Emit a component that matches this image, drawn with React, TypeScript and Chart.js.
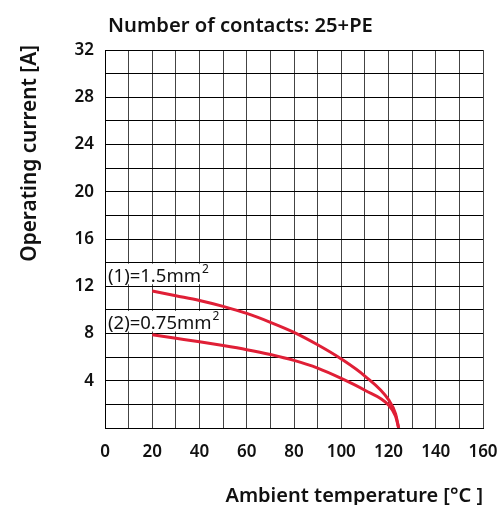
import React, { useEffect, useRef } from "react";
import { Chart, registerables } from "chart.js";

Chart.register(...registerables);

const chartTitle = "Number of contacts: 25+PE";
const xAxisTitle = "Ambient temperature [°C ]";
const yAxisTitle = "Operating current [A]";

const xMin = 0;
const xMax = 160;
const xStep = 10;
const xLabelStep = 20;
const yMin = 0;
const yMax = 32;
const yStep = 2;
const yLabelStep = 4;

const series1Label = "(1)=1.5mm";
const series1Temp = [20, 30, 40, 50, 60, 70, 80, 90, 100, 110, 120, 123, 124.3];
const series1Current = [11.6, 11.2, 10.8, 10.3, 9.7, 8.95, 8.1, 7.05, 5.85, 4.4, 2.4, 1.2, 0];

const series2Label = "(2)=0.75mm";
const series2Temp = [20, 30, 40, 50, 60, 70, 80, 90, 100, 110, 120, 123, 124.3];
const series2Current = [7.9, 7.6, 7.3, 6.98, 6.63, 6.22, 5.72, 5.07, 4.2, 3.2, 1.95, 1.0, 0];

const FONT = "'Noto Sans', 'Open Sans', sans-serif";
const RED = "#e01f36";
const TEXT = "#111111";

export default function App() {
  const ref = useRef<HTMLCanvasElement>(null);

  useEffect(() => {
    if (!ref.current) return;

    const textPlugin = {
      id: "textPlugin",
      afterDatasetsDraw(chart: any) {
        const ctx = chart.ctx;
        const area = chart.chartArea;
        const ys = chart.scales.y;
        ctx.save();
        const labels = [
          { text: series1Label, top: ys.getPixelForValue(14), w: 110 },
          { text: series2Label, top: ys.getPixelForValue(10), w: 117 },
        ];
        labels.forEach((l) => {
          const h = ys.getPixelForValue(12) - ys.getPixelForValue(14);
          ctx.fillStyle = "#ffffff";
          ctx.fillRect(area.left + 1, l.top + 1, l.w, h - 3);
          ctx.fillStyle = TEXT;
          ctx.font = `18.5px ${FONT}`;
          ctx.textBaseline = "alphabetic";
          ctx.textAlign = "left";
          ctx.fillText(l.text, area.left + 3, l.top + 19.5);
          const tw = ctx.measureText(l.text).width;
          ctx.font = `12px ${FONT}`;
          ctx.fillText("2", area.left + 4 + tw, l.top + 10);
        });
        ctx.restore();
      },
      afterDraw(chart: any) {
        const ctx = chart.ctx;
        const area = chart.chartArea;
        ctx.save();
        ctx.fillStyle = TEXT;
        ctx.textBaseline = "alphabetic";
        ctx.font = `600 20.2px ${FONT}`;
        ctx.textAlign = "left";
        ctx.fillText(chartTitle, area.left + 3, 31.5);
        ctx.font = `600 20px ${FONT}`;
        ctx.textAlign = "right";
        ctx.fillText(xAxisTitle, area.right, 501.5);
        ctx.translate(36, area.top - 5);
        ctx.rotate(-Math.PI / 2);
        ctx.textAlign = "right";
        ctx.font = `600 20.8px ${FONT}`;
        ctx.fillText(yAxisTitle, 0, 0);
        ctx.restore();
      },
    };

    const chart = new Chart(ref.current, {
      type: "line",
      data: {
        datasets: [
          {
            label: series1Label,
            data: series1Temp.map((t, i) => ({ x: t, y: series1Current[i] })),
            borderColor: RED,
            borderWidth: 3,
            pointRadius: 0,
            fill: false,
            cubicInterpolationMode: "monotone",
          },
          {
            label: series2Label,
            data: series2Temp.map((t, i) => ({ x: t, y: series2Current[i] })),
            borderColor: RED,
            borderWidth: 3,
            pointRadius: 0,
            fill: false,
            cubicInterpolationMode: "monotone",
          },
        ],
      },
      options: {
        responsive: false,
        animation: false,
        layout: { padding: { top: 50, right: 20, bottom: 0, left: 0 } },
        plugins: {
          legend: { display: false },
          title: { display: false },
          tooltip: { enabled: false },
        },
        scales: {
          x: {
            type: "linear",
            min: xMin,
            max: xMax,
            afterFit(scale: any) {
              scale.height = 77;
              scale.paddingLeft = 0;
              scale.paddingRight = 0;
            },
            ticks: {
              stepSize: xStep,
              autoSkip: false,
              maxRotation: 0,
              padding: 14,
              color: TEXT,
              font: { family: FONT, size: 17, weight: "600" },
              callback: (v: any) => (Number(v) % xLabelStep === 0 ? String(v) : ""),
            },
            grid: { color: "#444", lineWidth: 1, drawTicks: false },
            border: { display: true, color: "#000", width: 1 },
          },
          y: {
            type: "linear",
            min: yMin,
            max: yMax,
            afterFit(scale: any) {
              scale.width = 105;
              scale.paddingTop = 0;
              scale.paddingBottom = 0;
            },
            ticks: {
              stepSize: yStep,
              autoSkip: false,
              padding: 11,
              color: TEXT,
              font: { family: FONT, size: 17, weight: "600" },
              callback: (v: any) => (Number(v) % yLabelStep === 0 && Number(v) !== 0 ? String(v) : ""),
            },
            grid: { color: "#000", lineWidth: 1, drawTicks: false },
            border: { display: true, color: "#000", width: 1 },
          },
        },
      },
      plugins: [textPlugin],
    });
    return () => chart.destroy();
  }, []);

  return (
    <div style={{ position: "fixed", left: 0, top: 0, width: 503, height: 505, background: "#fff" }}>
      <canvas ref={ref} width={503} height={505} style={{ width: 503, height: 505 }} />
    </div>
  );
}
